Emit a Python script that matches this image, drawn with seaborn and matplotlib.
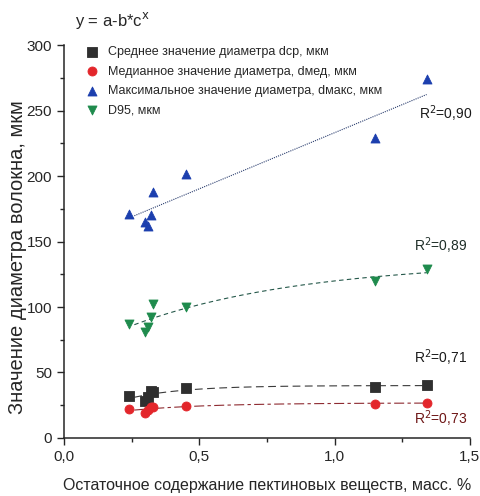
import numpy as np
import pandas as pd
import matplotlib
matplotlib.use("Agg")
import matplotlib.pyplot as plt
import seaborn as sns
from matplotlib.ticker import MultipleLocator, FuncFormatter

# -------------------------
# Data
# -------------------------
x_pectin = [0.24, 0.30, 0.31, 0.32, 0.33, 0.45, 1.15, 1.34]

d_mean = [32, 28, 31.5, 35.5, 35, 38, 39, 40.5]
d_median = [22, 19, 21.5, 23.5, 23.5, 24.5, 26, 27]
d_max = [171, 165, 162, 170, 187.5, 201.5, 229, 274]
d95 = [87, 81, 85, 92, 102, 100, 119.5, 129]

labels = [
    "Среднее значение диаметра dср, мкм",
    "Медианное значение диаметра, dмед, мкм",
    "Максимальное значение диаметра, dмакс, мкм",
    "D95, мкм",
]
r2_text = ["R$^2$=0,71", "R$^2$=0,73", "R$^2$=0,90", "R$^2$=0,89"]

series = [d_mean, d_median, d_max, d95]
markers = ["s", "o", "^", "v"]
colors = ["#2f2f2f", "#e3262b", "#1c3fae", "#1f8b4d"]
line_colors = ["#3a3a3a", "#8e2a30", "#2a3d6e", "#25584a"]
line_styles = [(0, (7, 4)), (0, (9, 3, 3, 3)), (0, (1, 1)), (0, (4, 3))]
r2_pos = [(1.39, 61), (1.39, 15), (1.41, 248), (1.39, 147)]
r2_colors = ["#1a1a1a", "#6e1616", "#1a1a1a", "#1e2e28"]

rows = []
for lab, vals in zip(labels, series):
    for xv, yv in zip(x_pectin, vals):
        rows.append({"x": xv, "y": yv, "series": lab})
df = pd.DataFrame(rows)


def fit_exp(x, y):
    # y = a - b*c^x : grid over c (0 < c < 1), least squares for a and b
    x = np.asarray(x, float)
    y = np.asarray(y, float)
    best = None
    for c in np.linspace(0.001, 0.999, 1000):
        A = np.column_stack([np.ones_like(x), -c ** x])
        coef, *_ = np.linalg.lstsq(A, y, rcond=None)
        err = np.sum((A @ coef - y) ** 2)
        if best is None or err < best[0]:
            best = (err, coef[0], coef[1], c)
    return best[1:]


# -------------------------
# Plot
# -------------------------
sns.set_style("ticks")
plt.rcParams["font.family"] = ["Liberation Sans", "DejaVu Sans"]

fig, ax = plt.subplots(figsize=(4.81, 4.96), dpi=100)
fig.subplots_adjust(left=0.133, right=0.977, bottom=0.117, top=0.909)

for lab, m, col in zip(labels, markers, colors):
    sns.scatterplot(
        data=df[df["series"] == lab], x="x", y="y",
        marker=m, color=col, s=42, edgecolor=col, linewidth=0.6,
        label=lab, ax=ax, zorder=3
    )

for vals, lc, ls in zip(series, line_colors, line_styles):
    a, b, c = fit_exp(x_pectin, vals)
    xs = np.linspace(min(x_pectin) + 0.02, max(x_pectin), 200)
    ax.plot(xs, a - b * c ** xs, color=lc, linestyle=ls, linewidth=0.8, zorder=2)

for txt, (tx, ty), tc in zip(r2_text, r2_pos, r2_colors):
    ax.text(tx, ty, txt, fontsize=10, color=tc, ha="center", va="center")

ax.set_xlim(0, 1.5)
ax.set_ylim(0, 300)
ax.xaxis.set_major_locator(MultipleLocator(0.5))
ax.xaxis.set_minor_locator(MultipleLocator(0.25))
ax.yaxis.set_major_locator(MultipleLocator(50))
ax.yaxis.set_minor_locator(MultipleLocator(25))
ax.xaxis.set_major_formatter(FuncFormatter(lambda v, p: f"{v:.1f}".replace(".", ",")))
ax.tick_params(axis="both", which="major", labelsize=11, length=5, width=1, direction="out")
ax.tick_params(axis="both", which="minor", length=3, width=1, direction="out")
sns.despine(ax=ax)
ax.spines["left"].set_linewidth(1.1)
ax.spines["bottom"].set_linewidth(1.1)

ax.set_xlabel("Остаточное содержание пектиновых веществ, масс. %", fontsize=11.5, labelpad=10)
ax.set_ylabel("Значение диаметра волокна, мкм", fontsize=14.5)
ax.yaxis.set_label_coords(-0.092, 0.46)

ax.legend(loc="upper left", bbox_to_anchor=(0.025, 1.01), frameon=False,
          fontsize=9, handletextpad=0.3, labelspacing=0.6, borderaxespad=0)

fig.text(0.155, 0.958, "y = a-b*c$^\\mathrm{x}$", fontsize=12, ha="left", va="center")

plt.savefig("out.png", dpi=100)
plt.close()
